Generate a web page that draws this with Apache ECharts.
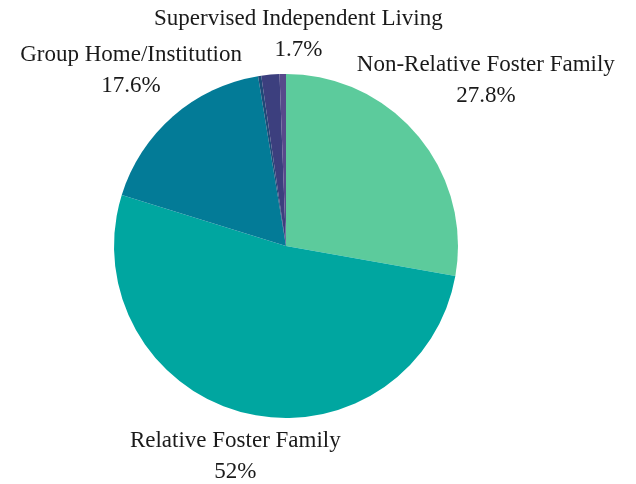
<!DOCTYPE html>
<html>
<head>
<meta charset="utf-8">
<script src="https://cdn.jsdelivr.net/npm/echarts@6/dist/echarts.min.js"></script>
<style>html,body{margin:0;padding:0;background:#fff;}#c{width:636px;height:484px;}</style>
</head>
<body>
<div id="c"></div>
<script>
// Data (clockwise from 12 o'clock)
const categories = ["Non-Relative Foster Family", "Relative Foster Family", "Group Home/Institution", "Other", "Supervised Independent Living", "Missing"];
const values = [27.8, 52, 17.6, 0.3, 1.7, 0.6];
const showLabel = [true, true, true, false, true, false];

// Styles
const colors = ["#5ccb9c", "#00a6a0", "#037b97", "#1f4a78", "#3c3f7e", "#574a8b"];
const labelOffsets = [[68, -55], [-10, 43], [-42, -46], [0, 0], [28, -40], [0, 0]];
const CX = 286, CY = 246, R = 172;

const total = values.reduce((a, b) => a + b, 0);
const midAngles = [];
let acc = 0;
values.forEach(v => { midAngles.push((acc + v / 2) / total * 2 * Math.PI); acc += v; });

const chart = echarts.init(document.getElementById('c'), null, {renderer: 'canvas'});
chart.setOption({
  animation: false,
  series: [{
    type: 'pie',
    center: [CX, CY],
    radius: [0, R],
    startAngle: 90,
    clockwise: true,
    avoidLabelOverlap: false,
    itemStyle: {borderWidth: 0},
    label: {
      show: true,
      position: 'outside',
      fontFamily: 'Liberation Serif',
      fontSize: 23,
      lineHeight: 31,
      color: '#1a1a1a',
      formatter: p => p.name + '\n' + p.value + '%'
    },
    labelLine: {show: false, length: 0, length2: 0},
    labelLayout: function (p) {
      const i = p.dataIndex;
      const a = midAngles[i];
      const ax = CX + R * Math.sin(a), ay = CY - R * Math.cos(a);
      return {x: ax + labelOffsets[i][0], y: ay + labelOffsets[i][1], align: 'center', verticalAlign: 'middle'};
    },
    data: categories.map((n, i) => ({
      name: n, value: values[i],
      itemStyle: {color: colors[i]},
      label: {show: showLabel[i]}
    }))
  }]
});
</script>
</body>
</html>
